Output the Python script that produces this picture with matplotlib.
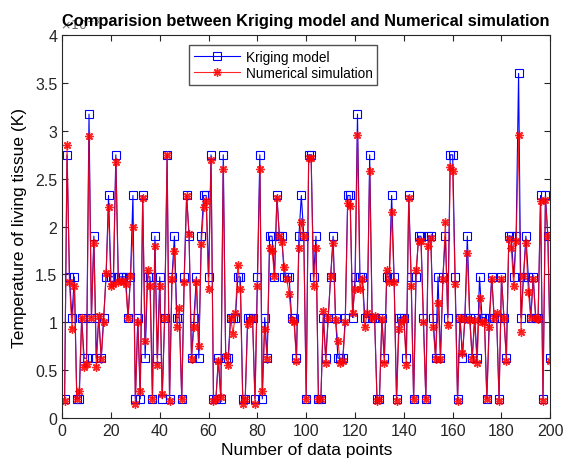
import numpy as np
import matplotlib
matplotlib.use("Agg")
import matplotlib.pyplot as plt

plt.rcParams['font.family'] = ['Liberation Sans', 'DejaVu Sans']

# values in units of 1e-3 (axis shows x10^-3)
kriging = [
    0.2, 2.75, 1.475, 1.05, 1.475, 0.2, 0.2, 1.05, 0.625, 0.625,
    3.175, 1.05, 1.9, 0.625, 1.05, 0.625, 1.05, 1.475, 2.325, 1.475,
    1.475, 2.75, 1.475, 1.475, 1.475, 1.475, 1.05, 1.475, 2.325, 0.2,
    1.05, 0.2, 2.325, 0.625, 1.475, 1.475, 0.2, 1.9, 0.625, 1.475,
    0.2, 1.05, 2.75, 0.2, 1.475, 1.9, 1.05, 1.05, 0.2, 1.475,
    2.325, 1.9, 0.625, 1.05, 1.475, 0.625, 1.9, 2.325, 2.325, 1.475,
    2.75, 0.2, 0.2, 0.625, 0.2, 2.75, 0.625, 0.625, 1.05, 1.05,
    1.05, 1.475, 1.475, 0.2, 0.2, 1.05, 1.05, 1.05, 0.2, 1.475,
    2.75, 0.2, 1.05, 0.625, 1.9, 1.9, 1.475, 2.325, 1.9, 1.9,
    1.475, 1.475, 1.475, 1.05, 1.05, 0.625, 1.9, 2.325, 1.9, 0.2,
    2.75, 2.75, 1.475, 1.9, 0.2, 0.2, 1.05, 0.625, 1.05, 1.475,
    1.9, 1.05, 0.625, 0.625, 0.625, 1.05, 2.325, 2.325, 1.05, 1.475,
    3.175, 1.475, 1.475, 1.05, 1.05, 2.75, 1.05, 1.05, 0.2, 0.2,
    1.05, 0.625, 1.475, 1.475, 2.325, 1.475, 0.2, 1.05, 1.05, 1.05,
    0.625, 2.325, 1.475, 0.2, 1.475, 1.9, 1.9, 1.05, 0.2, 1.9,
    1.9, 1.05, 0.625, 1.475, 0.625, 1.475, 1.9, 1.05, 2.75, 2.75,
    1.475, 0.2, 1.05, 0.625, 1.05, 1.9, 1.05, 0.625, 1.05, 0.625,
    1.475, 1.05, 1.05, 0.2, 1.05, 1.475, 1.05, 1.05, 0.2, 1.475,
    1.05, 0.625, 1.9, 1.9, 1.475, 1.9, 3.6, 1.05, 1.475, 1.9,
    1.475, 1.05, 1.475, 1.05, 1.05, 2.325, 0.2, 2.325, 1.9, 0.625,
]
simulation = [
    0.18, 2.85, 1.42, 0.93, 1.38, 0.2, 0.28, 1.05, 0.53, 0.56,
    2.95, 1.05, 1.83, 0.53, 1.07, 0.62, 1.0, 1.52, 2.2, 1.38,
    1.4, 2.68, 1.42, 1.43, 1.43, 1.4, 1.05, 1.48, 2.0, 0.15,
    1.0, 0.28, 2.3, 0.8, 1.55, 1.38, 0.2, 1.8, 0.55, 1.38,
    0.25, 1.05, 2.75, 0.18, 1.45, 1.75, 0.95, 1.15, 0.2, 1.42,
    2.32, 1.92, 0.62, 0.95, 1.42, 0.75, 1.82, 2.2, 2.27, 1.35,
    2.7, 0.18, 0.2, 0.6, 0.22, 2.6, 0.65, 0.55, 1.05, 0.88,
    1.1, 1.6, 1.35, 0.15, 0.2, 0.98, 1.02, 1.05, 0.15, 1.38,
    2.6, 0.28, 0.93, 0.62, 1.78, 1.75, 1.48, 2.3, 1.9, 1.84,
    1.58, 1.45, 1.3, 1.02, 1.0, 0.6, 1.78, 2.05, 1.9, 0.2,
    2.72, 2.72, 1.38, 1.78, 0.2, 0.2, 1.12, 0.57, 1.05, 1.48,
    1.83, 1.02, 0.8, 0.57, 0.6, 1.0, 2.25, 2.22, 1.1, 1.35,
    2.96, 1.35, 1.45, 0.95, 1.1, 2.58, 1.05, 1.07, 0.18, 0.2,
    1.03, 0.57, 1.55, 1.42, 2.15, 1.42, 0.18, 0.93, 1.0, 1.03,
    0.55, 2.3, 1.38, 0.2, 1.55, 1.85, 1.85, 1.0, 0.2, 1.8,
    1.88, 0.95, 0.62, 1.2, 0.62, 1.45, 2.05, 0.97, 2.62, 2.58,
    1.4, 0.18, 1.05, 0.68, 1.03, 1.72, 1.02, 0.62, 1.02, 0.57,
    1.25, 1.0, 1.0, 0.2, 0.95, 1.45, 1.05, 1.1, 0.18, 1.45,
    1.05, 0.6, 1.87, 1.78, 1.38, 1.85, 2.96, 0.9, 1.48, 1.83,
    1.32, 1.05, 1.45, 1.05, 1.03, 2.27, 0.18, 2.28, 1.9, 0.6,
]
points = np.arange(1, len(kriging) + 1)

fig = plt.figure(figsize=(5.65, 4.64), dpi=100)
ax = fig.add_axes([0.110, 0.097, 0.864, 0.825])

ax.plot(points, kriging, color='#0000ff', lw=0.8, marker='s', ms=5.5,
        mfc='none', mec='#0000ff', mew=0.8, label='Kriging model')
ax.plot(points, simulation, color='#ff0000', lw=0.8, marker=(8, 2, 0), ms=6,
        mec='#ff0000', mew=1.0, label='Numerical simulation', alpha=0.85)

ax.set(xlim=(0, 200), ylim=(0, 4))
ax.set_xticks(np.arange(0, 201, 20))
ax.set_yticks(np.arange(0, 4.01, 0.5))
ax.set_yticklabels(['0', '0.5', '1', '1.5', '2', '2.5', '3', '3.5', '4'])
ax.tick_params(direction='in', length=4, labelsize=11.5, top=True, right=True,
               colors='#262626')
for s in ax.spines.values():
    s.set_color('#262626')
    s.set_linewidth(0.8)

ax.set_xlabel('Number of data points', fontsize=12.5, labelpad=3)
ax.set_ylabel('Temperature of living tissue (K)', fontsize=12.5, labelpad=6)
ax.set_title('Comparision between Kriging model and Numerical simulation',
             fontsize=11.8, fontweight='bold', pad=7)
ax.text(-0.005, 1.008, r'$\times10^{-3}$', transform=ax.transAxes, fontsize=9,
        color='#666666', ha='left', va='bottom')

ax.legend(loc='upper left', bbox_to_anchor=(0.26, 0.975), fontsize=9.8,
          frameon=True, fancybox=False, edgecolor='#262626', handlelength=3.4,
          borderpad=0.35, labelspacing=0.2, handletextpad=0.4, borderaxespad=0)

plt.savefig('out.png', dpi=100)
